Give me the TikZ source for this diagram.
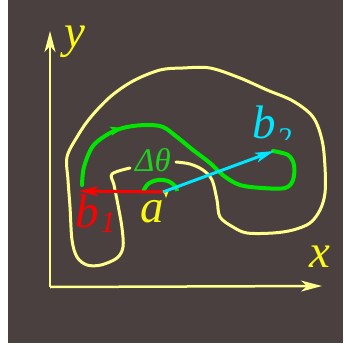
\documentclass[tikz,border=0pt]{standalone}
\usepackage{fontspec}
\setmainfont{Liberation Serif}
\usetikzlibrary{arrows.meta,decorations.markings}
\definecolor{bgc}{RGB}{74,64,64}
\definecolor{curvey}{RGB}{255,255,140}
\definecolor{texty}{RGB}{250,250,20}
\definecolor{pathg}{RGB}{0,230,0}
\definecolor{textg}{RGB}{30,210,30}
\definecolor{vecr}{RGB}{255,0,0}
\definecolor{vecc}{RGB}{0,230,255}
\tikzset{
  axis/.style={curvey,line width=2.5pt,-{Stealth[length=21pt,width=11pt,inset=6pt]}},
  lbl/.style={inner sep=0pt,anchor=base,font=\fontsize{47}{47}\selectfont\itshape},
  vec/.style={line width=3pt,-{Stealth[length=19pt,width=10pt,inset=5pt]}},
}
\begin{document}
\begin{tikzpicture}[x=1pt,y=-1pt]
\useasboundingbox (0,0) rectangle (343,345);
\fill[bgc] (8,0) rectangle (343,343);
% axes
\coordinate (O) at (50,287);
\coordinate (Ytip) at (50,31);
\coordinate (Xtip) at (322,286);
\draw[axis] (O) -- (Ytip);
\draw[axis] (O) -- (Xtip);
\node[lbl,text=texty] (ylab) at (75,48) {y};
\node[lbl,text=texty] (xlab) at (320,267) {x};
% yellow outer curve (open at top)
\draw[curvey,line width=3pt,line cap=round,line join=round] plot[smooth,tension=0.55] coordinates {
 (130,168) (112,174) (114,185) (118,205) (122,228) (123,247) (117,258) (101,265) (87,265)
 (77,257) (72,240) (70,207) (68,180) (67,157) (77,137) (90,118) (110,97) (133,81)
 (160,70) (183,68) (210,68) (240,78) (267,90) (293,101) (313,117) (322,140) (325,167)
 (325,193) (320,210) (310,223) (293,230) (273,233) (247,233) (233,227) (220,217)
 (217,200) (212,180) (203,170) (190,164) (176,162)};
% green path
\draw[pathg,line width=4pt,line cap=round,line join=round,
  postaction={decorate,decoration={markings,mark=at position 0.245 with {\arrow[pathg,line width=1pt]{Stealth[length=13pt,width=9pt,inset=3pt]}}}}]
 plot[smooth,tension=0.55] coordinates {
 (82,185) (84,167) (93,146) (110,133) (127,127) (147,125) (163,127) (177,137) (193,150)
 (210,163) (224,176) (240,185) (262,188) (285,188) (293,180) (294,165) (288,155) (273,151)};
% small angle arc
\draw[pathg,line width=4pt] plot[smooth,tension=0.6] coordinates {
 (143,192) (148,184) (158,180) (168,181) (175,186) (177,191)};
\node[inner sep=0pt,anchor=base,text=textg,font=\fontsize{33}{33}\selectfont\itshape] (dth) at (153,171) {Δθ};
% vectors
\coordinate (A) at (163,192);
\coordinate (B1) at (79,191);
\coordinate (B2) at (274,151);
\fill[texty] (163,190) -- (169,190) -- (166,198) -- cycle;
\draw[vec,vecr] (A) -- (B1);
\draw[vec,vecc] (A) -- (B2);
\node[lbl,text=texty] (alab) at (152,222) {a};
\node[lbl,anchor=base west,text=vecr] (b1lab) at (75,227) {b\hspace{2pt}\raisebox{-5pt}{\fontsize{30}{30}\selectfont 1}};
\begin{scope}
\clip (240,100) rectangle (300,139);
\node[lbl,anchor=base west,text=vecc] (b2lab) at (252,138) {b\hspace{1pt}\raisebox{-10pt}{\fontsize{30}{30}\selectfont 2}};
\end{scope}
\end{tikzpicture}
\end{document}
